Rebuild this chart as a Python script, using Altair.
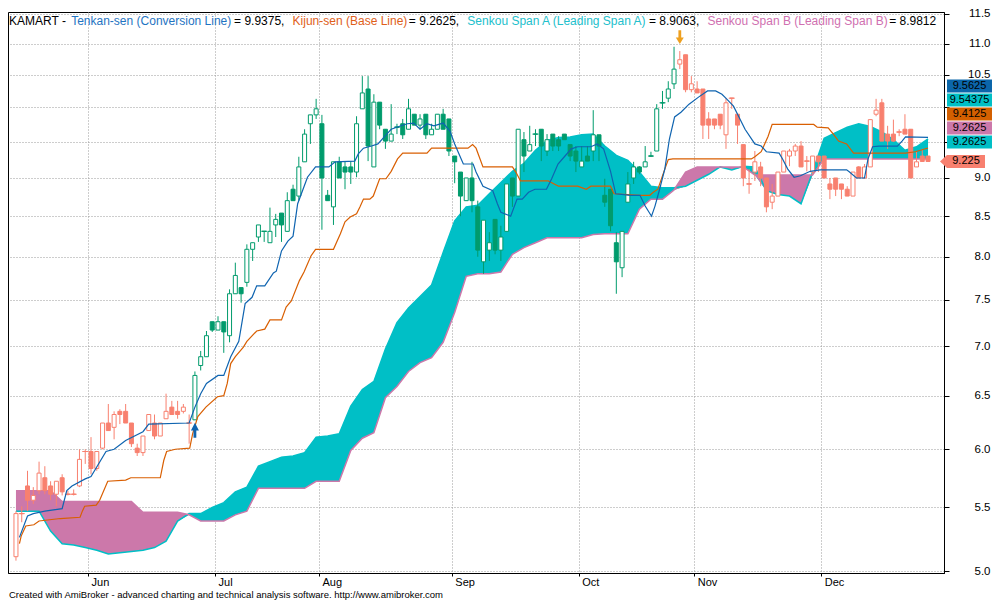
import altair as alt
import pandas as pd

FONT = "Liberation Sans, Arial, sans-serif"

ticker = "KAMART"

# ---------------- daily OHLC ----------------
opens = [5.11, 5.45, 5.68, 5.56, 5.64, 5.75, 5.68, 5.61, 5.75, 5.61,
         5.61, 5.68, 5.98, 5.98, 5.83, 6.01, 6.24, 6.20, 6.35, 6.35,
         6.24, 6.01, 5.97, 6.17, 6.24, 6.12, 6.28, 6.39, 6.35, 6.35,
         6.24, 6.27, 6.80, 6.89, 7.26, 7.17, 7.26, 7.11, 7.57, 7.64,
         7.70, 8.09, 8.24, 8.31, 8.17, 8.39, 8.54, 8.31, 8.85, 8.76,
         9.22, 9.76, 9.89, 9.76, 8.77, 8.62, 9.22, 9.15, 9.15, 9.08,
         9.98, 10.28, 9.15, 10.08, 9.68, 9.51, 9.71, 9.76, 9.68, 9.90,
         9.74, 9.90, 9.60, 9.68, 9.90, 9.83, 9.30, 9.08, 8.70, 9.00,
         8.62, 7.94, 8.08, 8.46, 8.08, 8.31, 9.00, 8.76, 9.53, 9.37,
         9.61, 9.68, 9.37, 9.61, 9.53, 9.61, 9.46, 9.37, 9.15, 9.30,
         9.37, 9.60, 8.77, 8.85, 8.17, 7.87, 8.68, 9.00, 9.15, 9.15,
         9.30, 9.37, 10.07, 10.14, 10.36, 10.67, 10.82, 10.27, 10.28, 10.28,
         9.83, 9.83, 9.90, 9.60, 10.14, 9.90, 9.46, 8.92, 9.08, 9.15,
         9.00, 8.68, 8.76, 9.08, 9.30, 9.37, 9.44, 9.23, 9.08, 9.30,
         9.30, 8.92, 9.00, 8.92, 8.85, 8.76, 9.15, 9.00, 9.15, 9.90,
         10.07, 9.61, 9.61, 9.64, 9.68, 9.68, 9.15, 9.30, 9.30]
highs = [5.47, 5.51, 5.81, 5.67, 5.89, 5.85, 5.72, 5.72, 5.78, 5.64,
         5.65, 6.00, 6.00, 6.11, 5.98, 6.24, 6.42, 6.35, 6.37, 6.42,
         6.24, 6.05, 6.12, 6.32, 6.32, 6.24, 6.52, 6.45, 6.45, 6.42,
         6.32, 6.74, 6.95, 7.16, 7.26, 7.32, 7.26, 7.62, 7.93, 7.64,
         8.15, 8.17, 8.39, 8.31, 8.61, 8.53, 8.54, 8.81, 8.91, 9.29,
         9.68, 9.89, 10.13, 9.89, 8.84, 9.22, 9.29, 9.23, 9.23, 9.87,
         10.48, 10.48, 10.20, 10.08, 9.68, 10.05, 9.76, 9.83, 10.13, 9.90,
         9.90, 9.90, 9.76, 9.90, 9.98, 9.83, 9.30, 9.08, 9.00, 9.22,
         8.70, 8.45, 8.30, 8.46, 8.38, 8.92, 9.00, 9.68, 9.64, 9.73,
         9.68, 9.68, 9.61, 9.61, 9.58, 9.61, 9.46, 9.44, 9.44, 9.44,
         9.96, 9.60, 8.99, 8.85, 8.30, 8.31, 9.08, 9.22, 9.16, 9.44,
         9.36, 10.05, 10.25, 10.40, 10.95, 10.88, 10.82, 10.48, 10.40, 10.28,
         9.93, 9.83, 9.90, 10.14, 10.14, 9.90, 9.46, 9.12, 9.37, 9.22,
         9.00, 8.92, 9.08, 9.37, 9.40, 9.47, 9.51, 9.30, 9.30, 9.30,
         9.30, 9.00, 9.00, 8.92, 8.89, 9.08, 9.16, 9.19, 9.82, 10.13,
         10.13, 9.73, 9.82, 9.68, 9.90, 9.68, 9.37, 9.40, 9.30]
lows = [5.08, 5.38, 5.47, 5.53, 5.61, 5.61, 5.56, 5.51, 5.60, 5.60,
        5.60, 5.67, 5.87, 5.78, 5.81, 6.00, 6.17, 6.09, 6.23, 6.24,
        6.02, 5.94, 5.94, 6.17, 6.09, 6.12, 6.28, 6.32, 6.28, 6.33,
        6.05, 6.27, 6.75, 6.89, 7.15, 7.17, 6.93, 7.04, 7.57, 7.47,
        7.65, 7.95, 8.18, 8.18, 8.17, 8.24, 8.18, 8.31, 8.70, 8.70,
        9.22, 9.47, 9.83, 8.33, 8.70, 8.39, 9.00, 8.85, 8.92, 9.01,
        9.98, 9.23, 9.15, 9.68, 9.40, 9.51, 9.61, 9.54, 9.68, 9.74,
        9.68, 9.54, 9.60, 9.68, 9.68, 9.30, 8.93, 8.50, 8.70, 8.55,
        8.00, 7.80, 7.95, 8.03, 7.95, 8.31, 8.62, 8.76, 9.08, 9.37,
        9.44, 9.23, 9.30, 9.37, 9.37, 9.53, 9.23, 9.08, 9.15, 9.23,
        9.23, 9.23, 8.62, 8.31, 7.57, 7.76, 8.68, 8.92, 9.05, 9.15,
        9.29, 9.37, 9.98, 10.08, 10.28, 10.59, 10.23, 10.23, 10.22, 9.54,
        9.54, 9.68, 9.68, 9.40, 9.98, 9.47, 8.89, 8.79, 8.96, 8.89,
        8.55, 8.59, 8.76, 9.08, 9.16, 9.30, 9.15, 9.09, 9.05, 9.08,
        9.00, 8.72, 8.76, 8.72, 8.76, 8.76, 9.00, 8.99, 9.15, 9.87,
        9.51, 9.40, 9.50, 9.58, 9.61, 9.00, 9.15, 9.22, 9.22]
closes = [5.45, 5.45, 5.56, 5.60, 5.79, 5.64, 5.61, 5.72, 5.63, 5.61,
          5.61, 5.91, 5.98, 5.83, 5.98, 6.24, 6.17, 6.32, 6.32, 6.24,
          6.05, 5.97, 6.12, 6.32, 6.12, 6.24, 6.35, 6.32, 6.32, 6.39,
          6.24, 6.70, 6.89, 7.11, 7.17, 7.26, 7.15, 7.57, 7.78, 7.57,
          8.09, 8.17, 8.39, 8.31, 8.31, 8.46, 8.39, 8.70, 8.70, 9.15,
          9.61, 9.89, 9.98, 9.00, 8.70, 9.22, 9.00, 9.08, 9.08, 9.76,
          10.22, 9.44, 10.08, 9.74, 9.51, 9.61, 9.71, 9.60, 9.98, 9.74,
          9.83, 9.60, 9.68, 9.90, 9.68, 9.37, 9.22, 8.76, 9.00, 8.70,
          8.08, 8.45, 8.17, 8.08, 8.24, 8.92, 8.76, 9.68, 9.30, 9.46,
          9.61, 9.44, 9.53, 9.44, 9.44, 9.53, 9.30, 9.23, 9.23, 9.23,
          9.60, 9.44, 8.68, 8.38, 7.94, 8.31, 8.92, 9.15, 9.08, 9.22,
          9.30, 9.98, 10.07, 10.28, 10.59, 10.74, 10.27, 10.36, 10.22, 9.74,
          9.74, 9.74, 9.74, 10.07, 10.14, 9.74, 9.00, 8.92, 9.22, 9.00,
          8.62, 8.76, 9.08, 9.37, 9.37, 9.44, 9.15, 9.23, 9.30, 9.22,
          9.00, 8.85, 8.85, 8.85, 8.76, 9.08, 9.00, 9.15, 9.82, 9.96,
          9.51, 9.51, 9.51, 9.64, 9.61, 9.00, 9.22, 9.225, 9.225]

# ---------------- Ichimoku lines ----------------
tenkan_bar = [0.6, 2, 3, 5, 8, 8.8, 9.7, 12, 13, 15.6, 17, 19, 22, 23, 30, 31, 32, 33, 35, 36,
              37.2, 38.6, 39.7, 40.9, 41.7, 43.1, 44.6, 45.1, 46, 47.1, 48, 48.8, 50.5, 51.9,
              54.2, 55.3, 58.7, 59.3, 60.2, 61.6, 62.7, 63.8, 65, 66.7, 67.8, 68.9, 70, 71.2,
              72.4, 74, 75.2, 76, 76.9, 77.5, 79.2, 79.7, 80.9, 82.6, 83.4, 84, 85.7, 86.8,
              87.7, 88.8, 89.9, 91.9, 92.8, 93.9, 95, 96.2, 97.3, 99.6, 100.7, 101.8, 103,
              103.9, 106.4, 108.1, 109, 110.1, 110.7, 111.5, 112.4, 113.2, 114.1, 115.2, 116.6,
              118.3, 119.8, 121.2, 122.3, 123.1, 124.3, 126.3, 128, 129.1, 130, 132.2, 132.8,
              133.7, 134.8, 135.9, 137.6, 139.3, 143.9, 144.4, 145.6, 147, 147.6, 148.4, 149.5,
              152.7, 153.5, 154.1, 158]
tenkan_val = [5.26, 5.43, 5.45, 5.47, 5.49, 5.64, 5.68, 5.74, 5.76, 5.98, 6.00, 6.08, 6.16, 6.23,
              6.24, 6.39, 6.52, 6.62, 6.70, 6.70, 6.89, 7.05, 7.46, 7.53, 7.66, 7.66, 7.81, 7.83,
              8.07, 8.19, 8.25, 8.66, 9.01, 9.15, 9.15, 9.22, 9.23, 9.33, 9.41, 9.44, 9.47, 9.57,
              9.68, 9.73, 9.76, 9.77, 9.68, 9.76, 9.73, 9.77, 9.65, 9.47, 9.30, 9.19, 9.19, 9.08,
              8.89, 8.83, 8.66, 8.55, 8.50, 8.72, 8.72, 8.81, 8.85, 8.85, 8.99, 9.19, 9.29, 9.40,
              9.43, 9.43, 9.47, 9.40, 9.09, 8.79, 8.77, 8.77, 8.63, 8.50, 8.63, 8.85, 9.12, 9.54,
              9.86, 9.93, 10.05, 10.16, 10.25, 10.25, 10.20, 10.13, 10.02, 9.68, 9.47, 9.44, 9.36,
              9.34, 9.26, 9.12, 9.01, 9.03, 9.09, 9.11, 9.11, 9.08, 9.00, 9.00, 9.26, 9.43, 9.44,
              9.44, 9.51, 9.57, 9.5625]
kijun_bar = [0.6, 0.9, 1.7, 3.1, 4, 7.7, 11.1, 11.5, 11.9, 13.9, 14.5, 15.9, 19, 19.9, 25, 25.6,
             26.1, 27.6, 30.1, 30.6, 31.5, 32.9, 34.9, 36, 36.6, 37.2, 38, 39.4, 40, 41.7, 43.1,
             44, 46, 46.8, 47.7, 49.1, 49.9, 51.1, 51.9, 55, 56.2, 57, 57.9, 59, 59.6, 60.2,
             61.3, 61.9, 63, 64.1, 65, 66.1, 67, 71.2, 72, 78.3, 79.1, 79.7, 80.9, 86, 86.6,
             87.4, 92.2, 94, 97.3, 98.8, 99.6, 103, 103.6, 108.1, 109.8, 110.4, 111.2, 112.4,
             113, 113.8, 127.4, 128, 129.1, 130.3, 131, 138.2, 138.8, 140.7, 141.6, 142.5,
             143.9, 145.1, 154.1, 155.8, 158]
kijun_val = [5.21, 5.27, 5.35, 5.36, 5.39, 5.41, 5.42, 5.47, 5.51, 5.52, 5.56, 5.72, 5.73, 5.75,
             5.75, 5.90, 5.98, 6.00, 6.01, 6.14, 6.30, 6.39, 6.49, 6.50, 6.62, 6.82, 6.89, 6.99,
             7.05, 7.16, 7.18, 7.28, 7.28, 7.42, 7.49, 7.72, 7.82, 8.01, 8.09, 8.09, 8.28, 8.43,
             8.49, 8.53, 8.62, 8.72, 8.72, 8.76, 8.99, 8.99, 9.09, 9.26, 9.34, 9.34, 9.41, 9.41,
             9.46, 9.41, 9.15, 9.15, 9.08, 8.96, 8.96, 8.89, 8.89, 8.85, 8.89, 8.89, 8.79, 8.77,
             8.77, 8.81, 8.85, 9.12, 9.25, 9.26, 9.26, 9.29, 9.36, 9.58, 9.75, 9.75, 9.71, 9.70,
             9.61, 9.51, 9.47, 9.34, 9.34, 9.36, 9.4125]
cloud_bar = list(range(0, 159, 2))
span_a = [5.47, 5.47, 5.47, 5.31, 5.21, 5.20, 5.18, 5.16, 5.13, 5.14,
          5.15, 5.16, 5.18, 5.23, 5.39, 5.45, 5.45, 5.50, 5.54, 5.63,
          5.67, 5.85, 5.89, 5.93, 5.94, 5.97, 6.11, 6.12, 6.14, 6.40,
          6.56, 6.64, 6.97, 7.25, 7.41, 7.54, 7.67, 8.05, 8.44, 8.62,
          8.64, 8.79, 8.94, 9.09, 9.20, 9.38, 9.52, 9.56, 9.57, 9.60,
          9.61, 9.44, 9.31, 9.24, 9.08, 8.89, 8.87, 8.87, 8.89, 8.97,
          9.05, 9.15, 9.11, 9.16, 9.15, 8.83, 8.78, 8.76, 8.66, 9.08,
          9.55, 9.63, 9.71, 9.76, 9.72, 9.64, 9.53, 9.38, 9.43, 9.54]
span_b = [5.64, 5.64, 5.64, 5.64, 5.55, 5.55, 5.55, 5.55, 5.55, 5.55,
          5.55, 5.46, 5.46, 5.46, 5.46, 5.44, 5.39, 5.39, 5.39, 5.44,
          5.47, 5.66, 5.66, 5.66, 5.66, 5.66, 5.72, 5.72, 5.72, 5.99,
          6.10, 6.15, 6.48, 6.59, 6.74, 6.83, 6.88, 7.04, 7.36, 7.77,
          7.80, 7.80, 7.82, 8.03, 8.11, 8.17, 8.23, 8.23, 8.23, 8.23,
          8.27, 8.28, 8.28, 8.28, 8.59, 8.72, 8.72, 8.84, 9.08, 9.15,
          9.15, 9.15, 9.15, 9.15, 9.04, 9.04, 9.04, 9.04, 9.04, 9.04,
          9.26, 9.26, 9.26, 9.26, 9.26, 9.26, 9.26, 9.26, 9.26, 9.26]

legend_tenkan = 9.9375
legend_kijun = 9.2625
legend_span_a = 8.9063
legend_span_b = 8.9812

# last values shown in the right-hand boxes (top to bottom)
last_tenkan = 9.5625
last_span_a = 9.54375
last_kijun = 9.4125
last_span_b = 9.2625
last_span_b_cloud = 9.2625
last_close = 9.225

month_names = ["Jun", "Jul", "Aug", "Sep", "Oct", "Nov", "Dec"]
month_first_bar = [13, 35, 53, 76, 98, 118, 140]
y_ticks = [5.0, 5.5, 6.0, 6.5, 7.0, 7.5, 8.0, 8.5, 9.0, 9.5, 10.0, 10.5, 11.0, 11.5]
# axis labels that the value boxes cover in the reference
y_ticks_hidden = [9.5, 10.0]
buy_signal_bar = 31
sell_signal_bar = 115

n = len(closes)
assert len(opens) == len(highs) == len(lows) == n
assert len(tenkan_bar) == len(tenkan_val) and len(kijun_bar) == len(kijun_val)
assert len(cloud_bar) == len(span_a) == len(span_b)

# ---------------- styling ----------------
CYAN = "#00bfc6"
PINK = "#cc78aa"
BLUE = "#0f64b0"
ORANGE = "#d95f02"
GREEN = "#009b6c"
SALMON = "#f8806f"

W, H = 936, 561
xs = alt.Scale(domain=[-0.514, 159.9], nice=False, zero=False)
ys = alt.Scale(type="log", domain=[4.987, 11.534], nice=False, zero=False)
trend_scale = alt.Scale(domain=["up", "down"], range=[GREEN, SALMON])

trend = ["up" if buy_signal_bar <= i < sell_signal_bar else "down" for i in range(n)]
candles = pd.DataFrame({"i": list(range(n)), "o": opens, "h": highs, "l": lows,
                        "c": closes, "trend": trend})
cloud = pd.DataFrame({"bar": cloud_bar, "a": span_a, "b": span_b})
tenkan = pd.DataFrame({"bar": tenkan_bar, "v": tenkan_val})
kijun = pd.DataFrame({"bar": kijun_bar, "v": kijun_val})

tick_vals = [b - 0.5 for b in month_first_bar]
label_expr = ("[" + ",".join(f"'{m}'" for m in month_names) + "][indexof(["
              + ",".join(str(v) for v in tick_vals) + "], datum.value)]")
y_label_expr = ("indexof([" + ",".join(str(v) for v in y_ticks_hidden)
                + "], datum.value) >= 0 ? '' : format(datum.value, '.1f')")

x_axis = alt.Axis(values=tick_vals, labelExpr=label_expr, grid=True, gridDash=[1, 2],
                  gridColor="#9a9a9a", tickSize=3, tickColor="black", domainColor="black",
                  labelAlign="left", labelOffset=3, labelPadding=0, labelFontSize=11,
                  labelFont=FONT, labelColor="black", labelBaseline="top", title=None,
                  labelOverlap=False, orient="bottom")
y_axis = alt.Axis(orient="right", values=y_ticks, labelExpr=y_label_expr, grid=True,
                  gridDash=[1, 2], gridColor="#9a9a9a", tickSize=5, tickColor="black",
                  domainColor="black", labelAlign="right", labelPadding=41, labelFontSize=11.5,
                  labelFont=FONT, labelColor="black", labelBaseline="middle", title=None,
                  labelOverlap=False)


def X(f):
    return alt.X(f, scale=xs, axis=x_axis, title=None)


def Y(f):
    return alt.Y(f, scale=ys, axis=y_axis, title=None)


cloud_base = alt.Chart(cloud).transform_calculate(lo="min(datum.a, datum.b)")
cyan_area = cloud_base.mark_area(color=CYAN, opacity=1).encode(
    x=X("bar:Q"), y=Y("a:Q"), y2=alt.Y2("lo:Q"))
pink_area = cloud_base.mark_area(color=PINK, opacity=1).encode(
    x=X("bar:Q"), y=Y("b:Q"), y2=alt.Y2("lo:Q"))
a_line = alt.Chart(cloud).mark_line(color=CYAN, strokeWidth=1.5).encode(x=X("bar:Q"), y=Y("a:Q"))
b_line = alt.Chart(cloud).mark_line(color=PINK, strokeWidth=1.5).encode(x=X("bar:Q"), y=Y("b:Q"))

wicks = alt.Chart(candles).mark_rule(strokeWidth=1).encode(
    x=X("i:Q"), y=Y("l:Q"), y2=alt.Y2("h:Q"),
    color=alt.Color("trend:N", scale=trend_scale, legend=None))
bodies = alt.Chart(candles).mark_bar(width=4, strokeWidth=1, opacity=1).encode(
    x=X("i:Q"), y=Y("o:Q"), y2=alt.Y2("c:Q"),
    fill=alt.condition("datum.c > datum.o", alt.value("white"),
                       alt.Fill("trend:N", scale=trend_scale, legend=None)),
    stroke=alt.Stroke("trend:N", scale=trend_scale, legend=None))
doji = alt.Chart(candles).transform_filter("datum.o == datum.c").mark_tick(
    orient="horizontal", size=6, thickness=1, opacity=1).encode(
    x=X("i:Q"), y=Y("c:Q"), color=alt.Color("trend:N", scale=trend_scale, legend=None))

kijun_line = alt.Chart(kijun).mark_line(color=ORANGE, strokeWidth=1.2).encode(
    x=X("bar:Q"), y=Y("v:Q"))
tenkan_line = alt.Chart(tenkan).mark_line(color=BLUE, strokeWidth=1.2).encode(
    x=X("bar:Q"), y=Y("v:Q"))

up_arrow = "M0,0.75L1,2.7L0.35,2.7L0.35,4.5L-0.35,4.5L-0.35,2.7L-1,2.7Z"
down_arrow = "M0,-1.75L1,-3.4L0.35,-3.4L0.35,-5.2L-0.35,-5.2L-0.35,-3.4L-1,-3.4Z"
buy_df = pd.DataFrame({"i": [buy_signal_bar], "p": [lows[buy_signal_bar]]})
sell_df = pd.DataFrame({"i": [sell_signal_bar], "p": [highs[sell_signal_bar]]})
buy_mark = alt.Chart(buy_df).mark_point(shape=up_arrow, size=64, filled=True, fill=BLUE,
                                        strokeWidth=0, opacity=1).encode(x=X("i:Q"), y=Y("p:Q"))
sell_mark = alt.Chart(sell_df).mark_point(shape=down_arrow, size=64, filled=True, fill="#eea020",
                                          strokeWidth=0, opacity=1).encode(x=X("i:Q"), y=Y("p:Q"))

# ---------------- right-hand value boxes ----------------
boxes = [(last_tenkan, "#0b66aa"), (last_span_a, CYAN), (last_kijun, "#d46000"),
         (last_span_b, PINK), (last_span_b_cloud, CYAN)]
box_layers = []
rect_path = "M-1.73,-0.5H1.73V0.5H-1.73Z"
close_path = "M-1.46,-0.5H1.46V0.5H-1.46L-2.0,0Z"
anchor = pd.DataFrame({"v": [last_close]})
for k, (val, col) in enumerate(reversed(boxes)):
    off = -19.5 - 14 * k
    cx = W + 3 + 22.5
    box_layers.append(alt.Chart(anchor).mark_point(
        shape=rect_path, size=676, filled=True, fill=col, strokeWidth=0, opacity=1,
        yOffset=off).encode(x=alt.value(cx), y=Y("v:Q")))
    box_layers.append(alt.Chart(anchor).mark_text(
        text=f"{val:g}", fontSize=11, font=FONT, color="black", align="center",
        baseline="middle", dy=off).encode(x=alt.value(cx), y=Y("v:Q")))
cxc = W + 3 + 19
box_layers.append(alt.Chart(anchor).mark_point(
    shape=close_path, size=676, filled=True, fill=SALMON, strokeWidth=0, opacity=1).encode(
    x=alt.value(cxc), y=Y("v:Q")))
box_layers.append(alt.Chart(anchor).mark_text(
    text=f"{last_close:g}", fontSize=11, font=FONT, color="black", align="center",
    baseline="middle").encode(x=alt.value(cxc), y=Y("v:Q")))

# ---------------- title / legend line ----------------
AW = {" ": 278, "-": 333, "(": 333, ")": 333, "=": 584, ",": 278, ".": 278,
      "A": 667, "B": 667, "C": 722, "K": 667, "L": 556, "M": 833, "R": 722, "S": 667, "T": 611,
      "a": 556, "d": 556, "e": 556, "g": 556, "i": 222, "j": 222, "k": 500, "n": 556,
      "o": 556, "p": 556, "r": 333, "s": 500, "u": 556, "v": 500}
FS = 12
segments = [
    (f"{ticker} - ", "black"),
    ("Tenkan-sen (Conversion Line)", "#1f74c2"),
    (f" = {legend_tenkan:.4f}, ", "black"),
    ("Kijun-sen (Base Line)", "#e0601a"),
    (f" = {legend_kijun:.4f}, ", "black"),
    ("Senkou Span A (Leading Span A)", "#22c0cc"),
    (f" = {legend_span_a:.4f}, ", "black"),
    ("Senkou Span B (Leading Span B)", "#d070b0"),
    (f" = {legend_span_b:.4f}", "black"),
]
text_layers = []
xpos = 1.0
for seg, col in segments:
    text_layers.append(alt.Chart(pd.DataFrame({"t": [seg]})).mark_text(
        align="left", baseline="middle", fontSize=FS, font=FONT, color=col).encode(
        x=alt.value(xpos), y=alt.value(9), text="t:N"))
    xpos += sum(AW.get(ch, 556) for ch in seg) / 1000 * FS + 1.5

footer = alt.Chart(pd.DataFrame({"t": [
    "Created with AmiBroker - advanced charting and technical analysis software. http://www.amibroker.com"]})
).mark_text(align="left", baseline="alphabetic", fontSize=9.5, font=FONT, color="black").encode(
    x=alt.value(1), y=alt.value(H + 25), text="t:N")

chart = alt.layer(
    cyan_area, pink_area, a_line, b_line, wicks, bodies, doji, kijun_line, tenkan_line,
    buy_mark, sell_mark, *box_layers, *text_layers, footer
).properties(
    width=W, height=H,
    autosize=alt.AutoSizeParams(type="none"),
    padding={"left": 0, "top": 4, "right": 48, "bottom": 28},
    background="white",
).configure_view(stroke="black", strokeWidth=1)

chart.save("out.html", embed_options={"renderer": "svg", "actions": False})
